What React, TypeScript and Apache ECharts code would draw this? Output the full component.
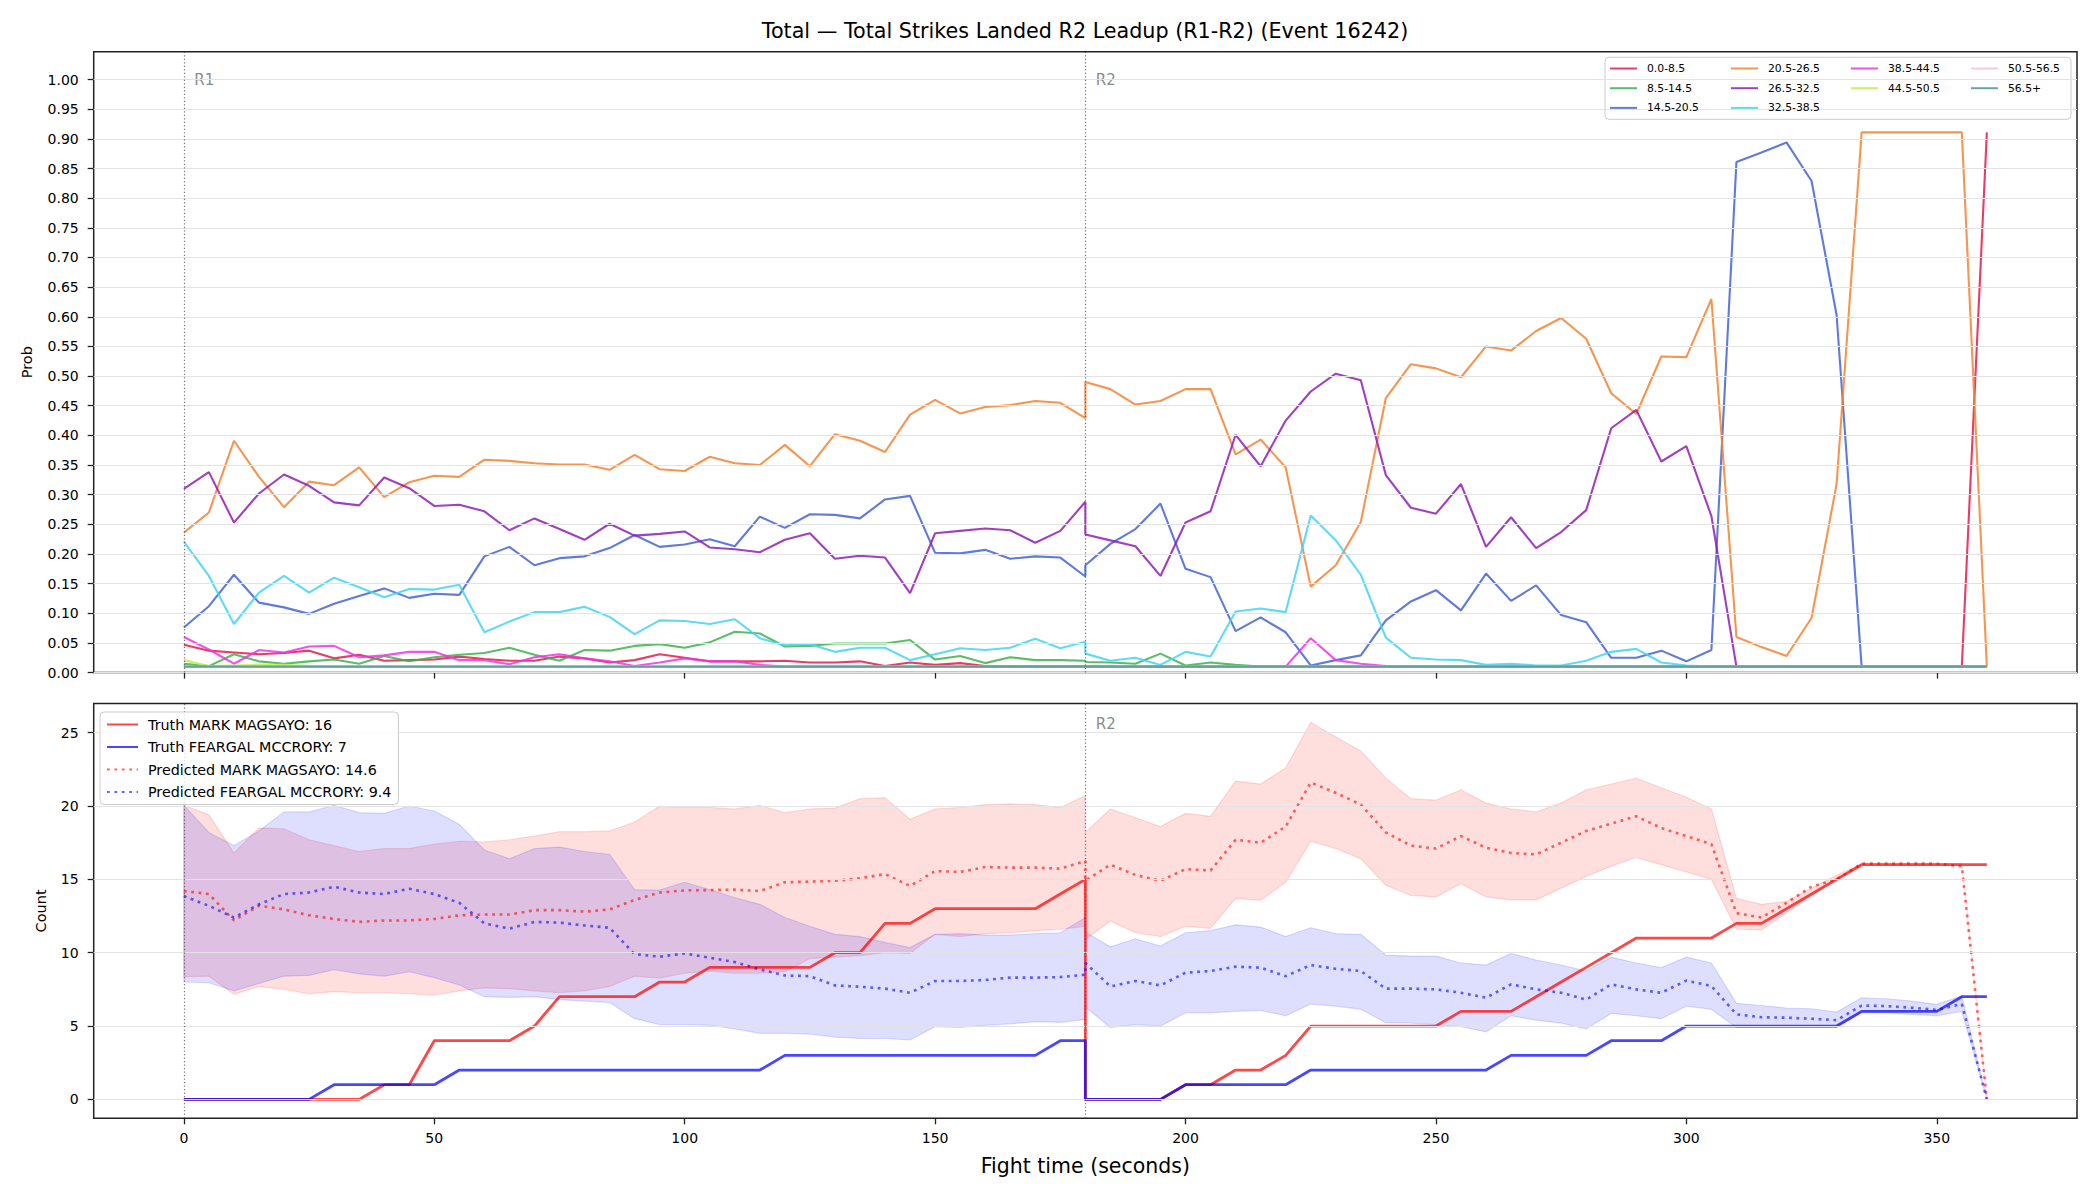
import React, { useEffect, useRef } from 'react';
import * as echarts from 'echarts';

const FONT = 'DejaVu Sans';
const TITLE = 'Total — Total Strikes Landed R2 Leadup (R1-R2) (Event 16242)';

// Sample grid (seconds): round 1 0..180, round 2 180..360, every 5 s
const R1_TIMES = Array.from({ length: 37 }, (_, i) => i * 5);
const R2_TIMES = Array.from({ length: 37 }, (_, i) => 180 + i * 5);
const TIMES = [...R1_TIMES, ...R2_TIMES];

const X_TICKS = [0, 50, 100, 150, 200, 250, 300, 350];
const PROB_TICKS = [0, 0.05, 0.1, 0.15, 0.2, 0.25, 0.3, 0.35, 0.4, 0.45, 0.5, 0.55, 0.6, 0.65, 0.7, 0.75, 0.8, 0.85, 0.9, 0.95, 1.0];
const COUNT_TICKS = [0, 5, 10, 15, 20, 25];

const BIN_NAMES = ['0.0-8.5', '8.5-14.5', '14.5-20.5', '20.5-26.5', '26.5-32.5', '32.5-38.5', '38.5-44.5', '44.5-50.5', '50.5-56.5', '56.5+'];
const BIN_COLORS = ['#e6194b', '#3cb44b', '#4363d8', '#f58231', '#911eb4', '#42d4f4', '#f032e6', '#bfef45', '#fabed4', '#469990'];

// ---- probability series (top panel) ----
const P_0_R1 = [0.047, 0.037, 0.034, 0.031, 0.033, 0.037, 0.024, 0.030, 0.020, 0.021, 0.022, 0.027, 0.023, 0.020, 0.020, 0.027, 0.024, 0.017, 0.021, 0.031, 0.025, 0.019, 0.019, 0.019, 0.020, 0.017, 0.017, 0.019, 0.011, 0.017, 0.013, 0.016, 0.011, 0.011, 0.011, 0.011, 0.011];
const P_0_R2 = [0.010, 0.010, 0.010, 0.010, 0.010, 0.010, 0.010, 0.010, 0.010, 0.010, 0.010, 0.010,
  0.010, 0.010, 0.010, 0.010, 0.010, 0.010, 0.010, 0.010, 0.010, 0.010, 0.010, 0.010,
  0.010, 0.010, 0.010, 0.010, 0.010, 0.010, 0.010, 0.010, 0.010, 0.010, 0.010, 0.010, 0.911];

const P_1_R1 = [0.015, 0.011, 0.031, 0.019, 0.015, 0.019, 0.022, 0.015, 0.028, 0.019, 0.026, 0.030, 0.033, 0.042, 0.030, 0.020, 0.038, 0.037, 0.045, 0.048, 0.042, 0.051, 0.069, 0.066, 0.044, 0.045, 0.049, 0.049, 0.049, 0.055, 0.022, 0.028, 0.016, 0.026, 0.021, 0.021, 0.020];
const P_1_R2 = [0.018, 0.017, 0.015, 0.032, 0.012, 0.017, 0.013,
  0.010, 0.010, 0.010, 0.010, 0.010, 0.010, 0.010, 0.010, 0.010, 0.010, 0.010, 0.010,
  0.010, 0.010, 0.010, 0.010, 0.010, 0.010, 0.010, 0.010, 0.010, 0.010, 0.010, 0.010,
  0.010, 0.010, 0.010, 0.010, 0.010, 0.010];

const P_2_R1 = [0.076, 0.112, 0.165, 0.118, 0.110, 0.099, 0.116, 0.129, 0.142, 0.126, 0.133, 0.131, 0.196, 0.212, 0.181, 0.193, 0.196, 0.210, 0.232, 0.212, 0.216, 0.225, 0.213, 0.263, 0.244, 0.267, 0.266, 0.260, 0.292, 0.298, 0.202, 0.201, 0.207, 0.192, 0.196, 0.194, 0.162];
const P_2_R2 = [0.181, 0.217, 0.242, 0.285, 0.175, 0.161, 0.070, 0.093, 0.068, 0.012, 0.021, 0.029, 0.088, 0.120, 0.139, 0.105, 0.167, 0.121, 0.147, 0.097, 0.085, 0.025, 0.025, 0.037, 0.019, 0.038, 0.861, 0.877, 0.894, 0.829, 0.603,
  0.010, 0.010, 0.010, 0.010, 0.010, 0.010];

const P_3_R1 = [0.236, 0.270, 0.391, 0.330, 0.279, 0.322, 0.316, 0.346, 0.296, 0.321, 0.332, 0.330, 0.359, 0.357, 0.353, 0.351, 0.351, 0.342, 0.367, 0.343, 0.340, 0.364, 0.353, 0.350, 0.384, 0.348, 0.402, 0.391, 0.372, 0.435, 0.460, 0.437, 0.448, 0.451, 0.458, 0.455, 0.429];
const P_3_R2 = [0.490, 0.478, 0.452, 0.458, 0.478, 0.478, 0.368, 0.393, 0.346, 0.145, 0.181, 0.254, 0.463, 0.520, 0.513, 0.498, 0.550, 0.543, 0.576, 0.598, 0.563, 0.471, 0.436, 0.533, 0.532, 0.630, 0.060, 0.043, 0.028, 0.092, 0.318,
  0.911, 0.911, 0.911, 0.911, 0.911, 0.010];

const P_4_R1 = [0.310, 0.338, 0.253, 0.302, 0.334, 0.315, 0.287, 0.282, 0.329, 0.311, 0.281, 0.283, 0.272, 0.240, 0.260, 0.242, 0.224, 0.251, 0.231, 0.234, 0.238, 0.211, 0.208, 0.203, 0.224, 0.235, 0.192, 0.197, 0.194, 0.134, 0.235, 0.239, 0.243, 0.240, 0.219, 0.239, 0.288];
const P_4_R2 = [0.233, 0.223, 0.213, 0.163, 0.253, 0.272, 0.401, 0.348, 0.425, 0.474, 0.504, 0.493, 0.333, 0.278, 0.268, 0.318, 0.212, 0.262, 0.210, 0.237, 0.274, 0.412, 0.443, 0.356, 0.382, 0.264,
  0.010, 0.010, 0.010, 0.010, 0.010, 0.010, 0.010, 0.010, 0.010, 0.010, 0.010];

const P_5_R1 = [0.221, 0.163, 0.082, 0.135, 0.163, 0.135, 0.160, 0.144, 0.127, 0.141, 0.140, 0.148, 0.068, 0.086, 0.102, 0.102, 0.111, 0.094, 0.065, 0.088, 0.087, 0.082, 0.090, 0.058, 0.046, 0.048, 0.035, 0.042, 0.042, 0.021, 0.031, 0.041, 0.038, 0.042, 0.057, 0.041, 0.052];
const P_5_R2 = [0.032, 0.020, 0.025, 0.013, 0.035, 0.027, 0.103, 0.108, 0.102, 0.265, 0.223, 0.165, 0.059, 0.025, 0.022, 0.021, 0.013, 0.015, 0.012, 0.012, 0.020, 0.035, 0.040, 0.017, 0.012,
  0.010, 0.010, 0.010, 0.010, 0.010, 0.010, 0.010, 0.010, 0.010, 0.010, 0.010, 0.010];

const P_6_R1 = [0.060, 0.039, 0.015, 0.038, 0.034, 0.044, 0.045, 0.026, 0.029, 0.035, 0.035, 0.021, 0.021, 0.014, 0.026, 0.031, 0.024, 0.019, 0.011, 0.017, 0.024, 0.019, 0.019, 0.013,
  0.010, 0.010, 0.010, 0.010, 0.010, 0.010, 0.010, 0.010, 0.010, 0.010, 0.010, 0.010, 0.010];
const P_6_R2 = [0.010, 0.010, 0.010, 0.010, 0.010, 0.010, 0.010, 0.010, 0.010, 0.058, 0.021, 0.015, 0.011,
  0.010, 0.010, 0.010, 0.010, 0.010, 0.010, 0.010, 0.010, 0.010, 0.010, 0.010, 0.010,
  0.010, 0.010, 0.010, 0.010, 0.010, 0.010, 0.010, 0.010, 0.010, 0.010, 0.010, 0.010];

const P_7_R1 = [0.021, 0.011, 0.012, 0.013, 0.013, 0.011,
  0.010, 0.010, 0.010, 0.010, 0.010, 0.010, 0.010, 0.010, 0.010, 0.010, 0.010, 0.010, 0.010,
  0.010, 0.010, 0.010, 0.010, 0.010, 0.010, 0.010, 0.010, 0.010, 0.010, 0.010, 0.010,
  0.010, 0.010, 0.010, 0.010, 0.010, 0.010];
const FLOOR_ROUND = [0.010, 0.010, 0.010, 0.010, 0.010, 0.010, 0.010, 0.010, 0.010, 0.010, 0.010, 0.010,
  0.010, 0.010, 0.010, 0.010, 0.010, 0.010, 0.010, 0.010, 0.010, 0.010, 0.010, 0.010,
  0.010, 0.010, 0.010, 0.010, 0.010, 0.010, 0.010, 0.010, 0.010, 0.010, 0.010, 0.010, 0.010];

const PROB_SERIES = [
  [...P_0_R1, ...P_0_R2],
  [...P_1_R1, ...P_1_R2],
  [...P_2_R1, ...P_2_R2],
  [...P_3_R1, ...P_3_R2],
  [...P_4_R1, ...P_4_R2],
  [...P_5_R1, ...P_5_R2],
  [...P_6_R1, ...P_6_R2],
  [...P_7_R1, ...FLOOR_ROUND],
  [...FLOOR_ROUND, ...FLOOR_ROUND],
  [...FLOOR_ROUND, ...FLOOR_ROUND],
];

// ---- count series (bottom panel) ----
const TRUTH_A_R1 = [0, 0, 0, 0, 0, 0, 0, 0, 1, 1, 4, 4, 4, 4, 5, 7, 7, 7, 7, 8, 8, 9, 9, 9, 9, 9, 10, 10, 12, 12, 13, 13, 13, 13, 13, 14, 15];
const TRUTH_A_R2 = [0, 0, 0, 0, 1, 1, 2, 2, 3, 5, 5, 5, 5, 5, 5, 6, 6, 6, 7, 8, 9, 10, 11, 11, 11, 11, 12, 12, 13, 14, 15, 16, 16, 16, 16, 16, 16];
const TRUTH_B_R1 = [0, 0, 0, 0, 0, 0, 1, 1, 1, 1, 1, 2, 2, 2, 2, 2, 2, 2, 2, 2, 2, 2, 2, 2, 3, 3, 3, 3, 3, 3, 3, 3, 3, 3, 3, 4, 4];
const TRUTH_B_R2 = [0, 0, 0, 0, 1, 1, 1, 1, 1, 2, 2, 2, 2, 2, 2, 2, 2, 3, 3, 3, 3, 4, 4, 4, 5, 5, 5, 5, 5, 5, 5, 6, 6, 6, 6, 7, 7];

const PRED_A_R1 = [14.2, 14.0, 12.2, 13.2, 12.95, 12.55, 12.3, 12.1, 12.2, 12.2, 12.3, 12.55, 12.6, 12.6, 12.9, 12.9, 12.8, 12.95, 13.6, 14.1, 14.25, 14.27, 14.3, 14.2, 14.8, 14.85, 14.9, 15.07, 15.36, 14.55, 15.57, 15.5, 15.84, 15.8, 15.8, 15.73, 16.25];
const PRED_A_R2 = [14.9, 16.0, 15.3, 14.9, 15.7, 15.6, 17.7, 17.5, 18.6, 21.6, 20.9, 20.1, 18.2, 17.3, 17.1, 17.95, 17.16, 16.8, 16.7, 17.5, 18.3, 18.8, 19.3, 18.5, 17.95, 17.4, 12.7, 12.4, 13.4, 14.5, 15.0, 16.07, 16.07, 16.07, 16.07, 15.9, 0];
const UPPER_A_R1 = [20.05, 19.4, 16.8, 18.5, 18.45, 17.7, 17.3, 16.9, 17.1, 17.1, 17.4, 17.6, 17.55, 17.7, 17.95, 18.25, 18.25, 18.3, 18.9, 20.0, 19.9, 19.9, 19.8, 20.05, 19.55, 19.8, 19.86, 20.5, 20.57, 19.1, 19.8, 19.9, 20.1, 20.15, 20.1, 19.9, 20.7];
const UPPER_A_R2 = [18.2, 19.8, 19.2, 18.6, 19.5, 19.3, 21.7, 21.5, 22.6, 25.7, 24.7, 23.75, 21.9, 20.5, 20.4, 21.1, 20.2, 19.8, 19.6, 20.2, 21.1, 21.5, 21.9, 21.25, 20.6, 19.8, 13.7, 13.3, 13.5, 14.4, 15.3, 16.07, 16.07, 16.07, 16.07, 16.07, 0];
const LOWER_A_R1 = [8.36, 8.4, 7.16, 7.7, 7.5, 7.2, 7.34, 7.27, 7.27, 7.2, 7.1, 7.4, 7.6, 7.55, 7.4, 7.27, 7.4, 7.7, 8.4, 8.27, 8.6, 8.75, 8.6, 8.6, 8.7, 9.6, 9.7, 9.8, 10.0, 9.95, 11.25, 11.1, 11.3, 11.36, 11.5, 11.6, 11.8];
const LOWER_A_R2 = [10.9, 12.16, 11.36, 11.1, 11.8, 11.66, 13.7, 13.57, 14.8, 17.6, 17.1, 16.4, 14.6, 13.9, 13.8, 14.7, 13.8, 13.6, 13.6, 14.4, 15.2, 15.9, 16.5, 16.0, 15.5, 15.0, 11.6, 11.55, 12.7, 13.9, 15.0, 16.07, 16.07, 16.07, 16.07, 16.07, 0];

const PRED_B_R1 = [13.86, 13.2, 12.4, 13.3, 14.0, 14.1, 14.5, 14.1, 14.0, 14.36, 14.0, 13.4, 12.0, 11.64, 12.1, 12.05, 11.86, 11.7, 9.9, 9.73, 9.95, 9.66, 9.36, 8.86, 8.45, 8.4, 7.77, 7.68, 7.55, 7.27, 8.07, 8.07, 8.14, 8.3, 8.3, 8.34, 8.5];
const PRED_B_R2 = [9.3, 7.7, 8.07, 7.77, 8.64, 8.75, 9.05, 8.98, 8.4, 9.16, 8.9, 8.75, 7.55, 7.55, 7.5, 7.27, 6.93, 7.84, 7.5, 7.27, 6.8, 7.84, 7.5, 7.27, 8.1, 7.73, 5.8, 5.6, 5.57, 5.5, 5.4, 6.4, 6.36, 6.25, 6.1, 6.5, 0];
const UPPER_B_R1 = [20.05, 18.2, 17.3, 18.3, 19.6, 19.6, 20.05, 19.55, 19.5, 20.0, 19.66, 18.75, 17.0, 16.4, 17.1, 17.2, 16.9, 16.7, 14.3, 14.27, 14.8, 14.3, 13.75, 13.3, 12.4, 11.8, 11.25, 11.1, 10.7, 10.35, 11.25, 11.3, 11.2, 11.2, 11.3, 11.36, 12.4];
const UPPER_B_R2 = [11.4, 10.4, 10.95, 10.45, 11.36, 11.5, 11.9, 11.75, 11.1, 11.7, 11.3, 11.25, 9.84, 9.77, 9.77, 9.3, 9.16, 9.95, 9.5, 9.16, 8.75, 9.7, 9.3, 8.98, 9.7, 9.3, 6.55, 6.4, 6.23, 6.18, 5.95, 6.93, 6.86, 6.7, 6.48, 7.05, 0];
const LOWER_B_R1 = [8.0, 7.95, 7.4, 7.9, 8.4, 8.45, 8.85, 8.55, 8.4, 8.7, 8.3, 7.8, 7.0, 6.95, 7.0, 6.8, 6.7, 6.6, 5.5, 5.1, 5.1, 5.05, 4.8, 4.5, 4.5, 4.45, 4.25, 4.15, 4.15, 4.05, 4.95, 4.9, 5.05, 5.15, 5.3, 5.25, 5.45];
const LOWER_B_R2 = [6.3, 4.9, 5.1, 5.0, 5.9, 5.9, 6.0, 6.07, 5.7, 6.5, 6.36, 6.14, 5.23, 5.2, 5.1, 4.95, 4.6, 5.7, 5.4, 5.2, 4.8, 5.86, 5.7, 5.5, 6.36, 6.14, 4.9, 4.9, 4.9, 4.9, 4.9, 5.9, 5.9, 5.8, 5.7, 6.0, 0];

const TRUTH_A = [...TRUTH_A_R1, ...TRUTH_A_R2];
const TRUTH_B = [...TRUTH_B_R1, ...TRUTH_B_R2];
const PRED_A = [...PRED_A_R1, ...PRED_A_R2];
const PRED_B = [...PRED_B_R1, ...PRED_B_R2];
const UPPER_A = [...UPPER_A_R1, ...UPPER_A_R2];
const LOWER_A = [...LOWER_A_R1, ...LOWER_A_R2];
const UPPER_B = [...UPPER_B_R1, ...UPPER_B_R2];
const LOWER_B = [...LOWER_B_R1, ...LOWER_B_R2];

const COUNT_NAMES = ['Truth MARK MAGSAYO: 16', 'Truth FEARGAL MCCRORY: 7', 'Predicted MARK MAGSAYO: 14.6', 'Predicted FEARGAL MCCRORY: 9.4'];

const ROUND_MARKS = [0, 180];

function rgba(hex: string, a: number) {
  const n = parseInt(hex.slice(1), 16);
  return `rgba(${(n >> 16) & 255},${(n >> 8) & 255},${n & 255},${a})`;
}

function pairs(vals: number[]) {
  return TIMES.map((t, i) => [t, vals[i]]);
}

function bandSeries(name: string, lower: number[], upper: number[], fill: string, stroke: string) {
  return {
    type: 'custom',
    name,
    xAxisIndex: 1,
    yAxisIndex: 1,
    silent: true,
    z: 1,
    data: [[TIMES[0], lower[0]]],
    renderItem: (_params: any, api: any) => {
      const pts: number[][] = [];
      for (let i = 0; i < TIMES.length; i++) pts.push(api.coord([TIMES[i], upper[i]]));
      for (let i = TIMES.length - 1; i >= 0; i--) pts.push(api.coord([TIMES[i], lower[i]]));
      return {
        type: 'polygon',
        shape: { points: pts },
        style: { fill, stroke, lineWidth: 1.2 },
      };
    },
  };
}

function gridLineSeries(axisIdx: number, ticks: number[]) {
  const roundStyle = { color: 'rgba(80,80,80,0.8)', width: 1.2, type: [1.3, 2.2] };
  return {
    type: 'line',
    name: '_grid' + axisIdx,
    xAxisIndex: axisIdx,
    yAxisIndex: axisIdx,
    data: [[0, ticks[0]]],
    symbol: 'none',
    lineStyle: { width: 0, opacity: 0 },
    silent: true,
    z: 0,
    markLine: {
      silent: true,
      symbol: ['none', 'none'],
      label: { show: false },
      animation: false,
      lineStyle: { color: '#e3e3e3', width: 1, type: 'solid' },
      data: [
        ...ticks.map((v) => ({ yAxis: v })),
        ...ROUND_MARKS.map((x) => ({ xAxis: x, lineStyle: roundStyle })),
      ],
    },
  };
}

function labelSeries(axisIdx: number, items: { name: string; value: number[] }[]) {
  return {
    type: 'scatter',
    name: '_labels' + axisIdx,
    xAxisIndex: axisIdx,
    yAxisIndex: axisIdx,
    symbolSize: 1,
    itemStyle: { color: 'rgba(0,0,0,0)' },
    silent: true,
    z: 3,
    data: items,
    label: {
      show: true,
      position: 'right',
      distance: 0,
      formatter: '{b}',
      color: '#6a6a6a',
      fontSize: 15,
      fontFamily: FONT,
    },
  };
}

function buildOption() {
  const tick = { show: true, length: 6, lineStyle: { color: '#222', width: 1.3 } };
  const axisFont = { fontSize: 14, color: '#000', fontFamily: FONT };

  const topLines = BIN_NAMES.map((name, k) => ({
    type: 'line',
    name,
    xAxisIndex: 0,
    yAxisIndex: 0,
    data: pairs(PROB_SERIES[k]),
    symbol: 'none',
    showSymbol: false,
    lineStyle: { color: rgba(BIN_COLORS[k], 0.85), width: 2.1 },
    itemStyle: { color: rgba(BIN_COLORS[k], 0.85) },
    z: 2,
  }));

  const countLine = (name: string, vals: number[], color: string, dotted: boolean) => ({
    type: 'line',
    name,
    xAxisIndex: 1,
    yAxisIndex: 1,
    data: pairs(vals),
    symbol: 'none',
    showSymbol: false,
    lineStyle: dotted
      ? { color, width: 2.6, type: [2.8, 4.6], cap: 'butt' }
      : { color, width: 2.8, join: 'round' },
    itemStyle: { color },
    z: 2,
  });

  const legendCols = [[0, 1, 2], [3, 4, 5], [6, 7], [8, 9]];
  const legendLefts = [1609, 1730, 1850, 1970];

  return {
    animation: false,
    backgroundColor: '#ffffff',
    textStyle: { fontFamily: FONT },
    grid: [
      { left: 93.7, top: 51.7, width: 1983.3, height: 620.9, show: true, borderColor: '#222', borderWidth: 1.5, backgroundColor: 'transparent', containLabel: false, outerBoundsMode: 'none' },
      { left: 93.7, top: 703.5, width: 1983.3, height: 414.8, show: true, borderColor: '#222', borderWidth: 1.5, backgroundColor: 'transparent', containLabel: false, outerBoundsMode: 'none' },
    ],
    xAxis: [
      {
        type: 'value', gridIndex: 0, min: -18, max: 378,
        axisLine: { show: false, onZero: false },
        axisTick: { ...tick, customValues: X_TICKS },
        axisLabel: { show: false, customValues: X_TICKS },
        splitLine: { show: false },
      },
      {
        type: 'value', gridIndex: 1, min: -18, max: 378,
        axisLine: { show: false, onZero: false },
        axisTick: { ...tick, customValues: X_TICKS },
        axisLabel: { ...axisFont, show: true, margin: 13, customValues: X_TICKS, formatter: (v: number) => String(v) },
        splitLine: { show: false },
        name: 'Fight time (seconds)', nameLocation: 'middle', nameGap: 37,
        nameTextStyle: { fontSize: 20.5, color: '#000', fontFamily: FONT },
      },
    ],
    yAxis: [
      {
        type: 'value', gridIndex: 0, min: 0, max: 1.047,
        axisLine: { show: false, onZero: false },
        axisTick: { ...tick, customValues: PROB_TICKS },
        axisLabel: { ...axisFont, margin: 15, customValues: PROB_TICKS, formatter: (v: number) => v.toFixed(2) },
        splitLine: { show: false },
        name: 'Prob', nameLocation: 'middle', nameGap: 59,
        nameTextStyle: { fontSize: 14.5, color: '#000', fontFamily: FONT },
      },
      {
        type: 'value', gridIndex: 1, min: -1.29, max: 26.99,
        axisLine: { show: false, onZero: false },
        axisTick: { ...tick, customValues: COUNT_TICKS },
        axisLabel: { ...axisFont, margin: 15, customValues: COUNT_TICKS, formatter: (v: number) => String(v) },
        splitLine: { show: false },
        name: 'Count', nameLocation: 'middle', nameGap: 45,
        nameTextStyle: { fontSize: 14.5, color: '#000', fontFamily: FONT },
      },
    ],
    legend: [
      ...legendCols.map((col, k) => ({
        orient: 'vertical',
        left: legendLefts[k],
        top: 63,
        padding: 0,
        itemGap: 8.7,
        itemWidth: 27,
        itemHeight: 10,
        selectedMode: false,
        z: 6,
        data: col.map((i) => BIN_NAMES[i]),
        itemStyle: { opacity: 0 },
        textStyle: { fontSize: 10.8, color: '#000', fontFamily: FONT, padding: [0, 0, 0, 5] },
      })),
      {
        orient: 'vertical',
        left: 100,
        top: 712,
        padding: [5.5, 7, 5.5, 6],
        itemGap: 8.5,
        itemWidth: 31,
        itemHeight: 14,
        selectedMode: false,
        z: 6,
        data: COUNT_NAMES,
        backgroundColor: 'rgba(255,255,255,0.8)',
        borderColor: '#cccccc',
        borderWidth: 1,
        borderRadius: 4,
        itemStyle: { opacity: 0 },
        textStyle: { fontSize: 14.3, color: '#000', fontFamily: FONT, padding: [0, 0, 0, 5] },
      },
    ],
    graphic: [
      {
        type: 'rect', z: 5, silent: true,
        shape: { x: 1605, y: 57.3, width: 466, height: 62, r: 4 },
        style: { fill: 'rgba(255,255,255,0.8)', stroke: '#cccccc', lineWidth: 1 },
      },
      {
        type: 'text', z: 10, x: 1085, y: 31, silent: true,
        style: {
          text: TITLE, fontSize: 20.7, fontFamily: FONT, fill: '#000',
          align: 'center', verticalAlign: 'middle', textAlign: 'center', textVerticalAlign: 'middle',
        },
      },
    ],
    series: [
      gridLineSeries(0, PROB_TICKS),
      ...topLines,
      labelSeries(0, [{ name: 'R1', value: [2, 1.0] }, { name: 'R2', value: [182, 1.0] }]),
      gridLineSeries(1, COUNT_TICKS),
      bandSeries('_bandA', LOWER_A, UPPER_A, 'rgba(255,0,0,0.13)', 'rgba(255,0,0,0.13)'),
      bandSeries('_bandB', LOWER_B, UPPER_B, 'rgba(0,0,255,0.13)', 'rgba(0,0,255,0.13)'),
      countLine(COUNT_NAMES[0], TRUTH_A, 'rgba(255,0,0,0.72)', false),
      countLine(COUNT_NAMES[1], TRUTH_B, 'rgba(0,0,255,0.72)', false),
      countLine(COUNT_NAMES[2], PRED_A, 'rgba(255,0,0,0.6)', true),
      countLine(COUNT_NAMES[3], PRED_B, 'rgba(0,0,255,0.6)', true),
      labelSeries(1, [{ name: 'R2', value: [182, 25.6] }]),
    ],
  };
}

export default function App() {
  const ref = useRef<HTMLDivElement>(null);
  useEffect(() => {
    const el = ref.current;
    if (!el) return;
    const chart = echarts.init(el, null, { renderer: 'svg' });
    chart.setOption(buildOption() as any);
    return () => chart.dispose();
  }, []);
  return (
    <div
      ref={ref}
      style={{ position: 'absolute', left: 0, top: 0, width: 2100, height: 1200, background: '#ffffff' }}
    />
  );
}
